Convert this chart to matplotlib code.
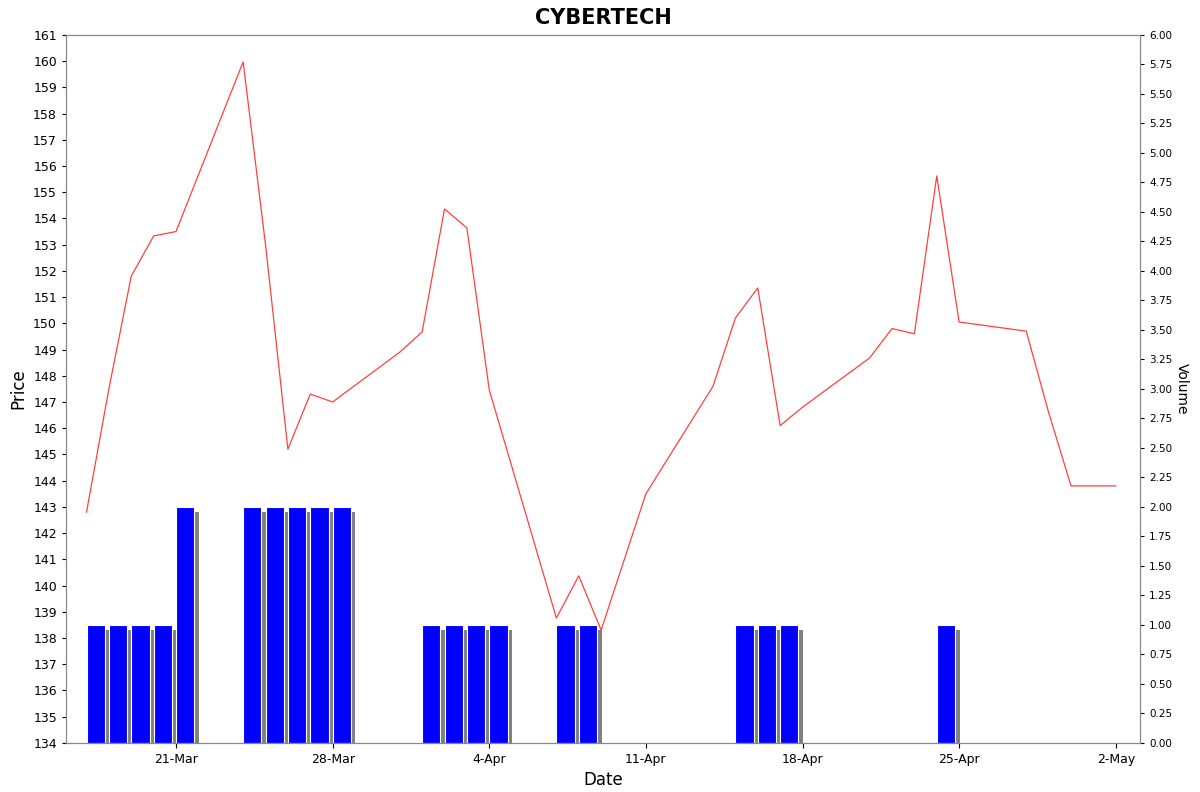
import matplotlib
matplotlib.use("Agg")
import matplotlib.pyplot as plt
import matplotlib.dates as mdates
import numpy as np
import datetime as dt

dates = ["2025-03-17","2025-03-18","2025-03-19","2025-03-20","2025-03-21",
         "2025-03-24","2025-03-25","2025-03-26","2025-03-27","2025-03-28",
         "2025-03-31","2025-04-01","2025-04-02","2025-04-03","2025-04-04",
         "2025-04-07","2025-04-08","2025-04-09","2025-04-10","2025-04-11",
         "2025-04-14","2025-04-15","2025-04-16","2025-04-17","2025-04-18",
         "2025-04-21","2025-04-22","2025-04-23","2025-04-24","2025-04-25",
         "2025-04-28","2025-04-29","2025-04-30","2025-05-01","2025-05-02"]
price = [142.8,147.5,151.8,153.33,153.5,
         159.97,153.0,145.2,147.3,147.0,
         148.9,149.67,154.36,153.64,147.46,
         138.76,140.37,138.3,140.9,143.5,
         147.6,150.2,151.35,146.1,146.8,
         148.68,149.8,149.6,155.62,150.05,
         149.7,146.6,143.8,143.8,143.8]
volume = [1,1,1,1,2,
          2,2,2,2,2,
          0,1,1,1,1,
          1,1,0,0,0,
          0,1,1,1,0,
          0,0,0,1,0,
          0,0,0,0,0]

d = [dt.datetime.strptime(s, "%Y-%m-%d") for s in dates]
dn = mdates.date2num(d)

fig = plt.figure(figsize=(12, 7.92), dpi=100)
ax = fig.add_axes([0.055, 0.062, 0.895, 0.894])
ax2 = ax.twinx()
ax.set_zorder(ax2.zorder + 1)
ax.patch.set_visible(False)

vol = np.array(volume, dtype=float)
mask = vol > 0
w = 0.82
# shadow
ax2.bar(dn[mask] + 0.2, vol[mask] - 0.04, width=w, align="edge", color="#808080", zorder=1)
ax2.bar(dn[mask], vol[mask], width=w, align="edge", color="#0000ff",
        edgecolor="white", linewidth=0.8, zorder=2)
ax2.set_ylim(0, 6)
ax2.set_yticks(np.arange(0, 6.01, 0.25))
ax2.yaxis.set_major_formatter(matplotlib.ticker.FormatStrFormatter("%.2f"))
ax2.tick_params(axis="y", labelsize=7.5, length=3)
ax2.set_ylabel("Volume", rotation=270, labelpad=12, fontsize=10)

ax.plot(dn, price, color="#ff4040", linewidth=0.9)
ax.set_ylim(134, 161)
ax.set_yticks(range(134, 162))
ax.tick_params(axis="y", labelsize=9, length=3)
ax.set_ylabel("Price", fontsize=12)

x0 = mdates.date2num(dt.datetime(2025, 3, 16, 2))
x1 = mdates.date2num(dt.datetime(2025, 5, 3, 2))
ax.set_xlim(x0, x1)
ticks = [dt.datetime(2025, 3, 21), dt.datetime(2025, 3, 28), dt.datetime(2025, 4, 4),
         dt.datetime(2025, 4, 11), dt.datetime(2025, 4, 18), dt.datetime(2025, 4, 25),
         dt.datetime(2025, 5, 2)]
ax.set_xticks(mdates.date2num(ticks))
ax.set_xticklabels([t.strftime("%-d-%b") for t in ticks], fontsize=9)
ax.set_xlabel("Date", fontsize=12)

for a in (ax, ax2):
    for s in a.spines.values():
        s.set_color("#888888")
        s.set_linewidth(0.8)

ax.set_title("CYBERTECH", fontsize=15, fontweight="bold", pad=8)
fig.savefig("out.png", dpi=100)
